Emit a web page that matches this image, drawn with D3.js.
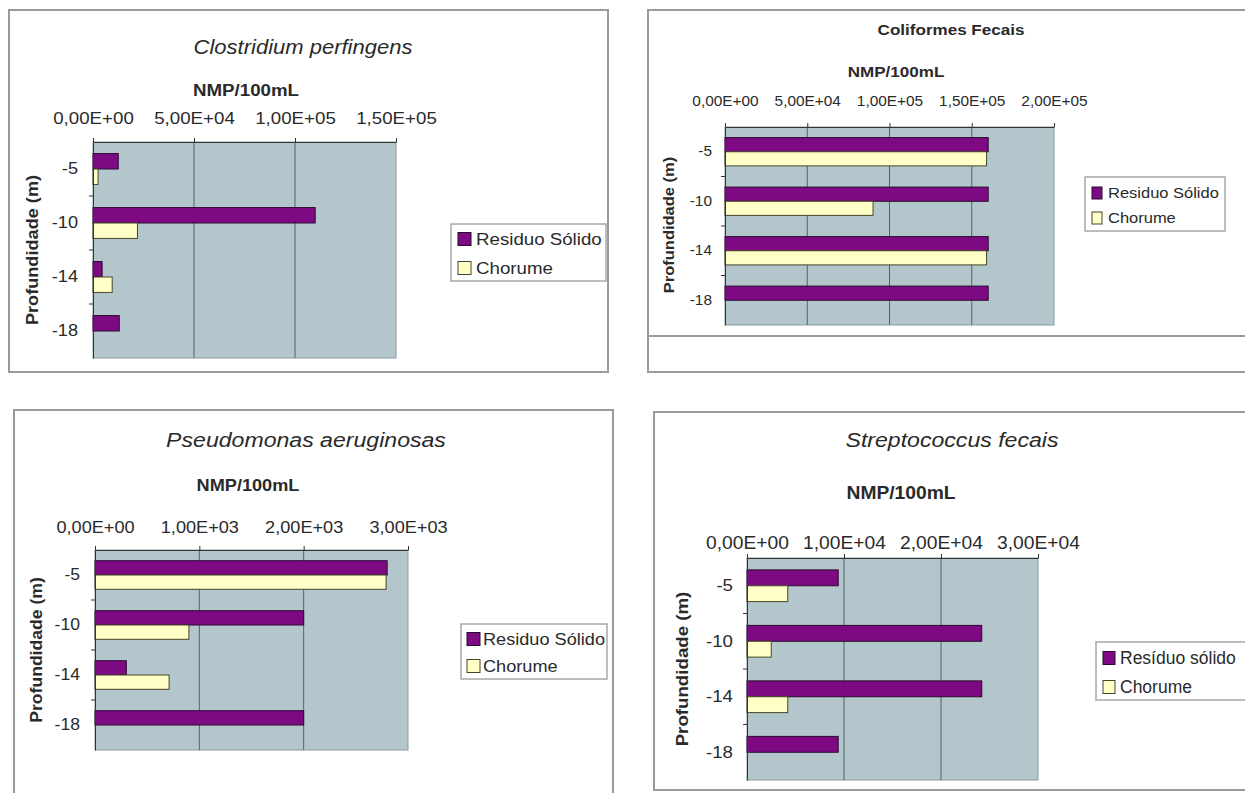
<!DOCTYPE html>
<html><head><meta charset="utf-8">
<script src="https://cdn.jsdelivr.net/npm/d3@7"></script>
<style>body{margin:0;background:#fff}svg{display:block}text{font-family:"Liberation Sans",Arial,sans-serif}</style>
</head><body><svg id="c" width="1245" height="793"></svg>
<script>
// ---------------- data ----------------
const depths = ["-5", "-10", "-14", "-18"];
const seriesKeys = ["residuo", "chorume"];
const legendLabelsA = ["Residuo Sólido", "Chorume"];
const legendLabelsB = ["Resíduo sólido", "Chorume"];
const unitLabel = "NMP/100mL";
const depthTitle = "Profundidade (m)";

const clostridiumResiduo = [1.25e4, 1.10e5, 4.5e3, 1.3e4];
const clostridiumChorume = [2.5e3, 2.2e4, 9.5e3, 0];
const clostridiumTicks = [0, 5e4, 1e5, 1.5e5];
const clostridiumTickLabels = ["0,00E+00", "5,00E+04", "1,00E+05", "1,50E+05"];

const coliformesResiduo = [1.60e5, 1.60e5, 1.60e5, 1.60e5];
const coliformesChorume = [1.59e5, 9.0e4, 1.59e5, 0];
const coliformesTicks = [0, 5e4, 1e5, 1.5e5, 2e5];
const coliformesTickLabels = ["0,00E+00", "5,00E+04", "1,00E+05", "1,50E+05", "2,00E+05"];

const pseudomonasResiduo = [2.80e3, 2.00e3, 3.0e2, 2.00e3];
const pseudomonasChorume = [2.79e3, 9.0e2, 7.1e2, 0];
const pseudomonasTicks = [0, 1e3, 2e3, 3e3];
const pseudomonasTickLabels = ["0,00E+00", "1,00E+03", "2,00E+03", "3,00E+03"];

const streptococcusResiduo = [9.4e3, 2.42e4, 2.42e4, 9.4e3];
const streptococcusChorume = [4.2e3, 2.5e3, 4.2e3, 0];
const streptococcusTicks = [0, 1e4, 2e4, 3e4];
const streptococcusTickLabels = ["0,00E+00", "1,00E+04", "2,00E+04", "3,00E+04"];

// ---------------- style / layout ----------------
const SX = 1.1;
const COLORS = {residuo: "#7e0a83", chorume: "#ffffc6"};
const STROKES = {residuo: "#2a0830", chorume: "#45452a"};
const PLOT_BG = "#b3c6cb";
const GRID = "#4f656b";
const TEXT = "#2a2a2a";

const panels = [
  {title: "Clostridium perfingens", italic: true, bold: false,
   res: clostridiumResiduo, cho: clostridiumChorume, ticks: clostridiumTicks, tickLabels: clostridiumTickLabels, legend: legendLabelsA,
   frame: [9, 10, 608, 372], plot: [93, 142, 396, 358],
   titlePos: [303, 54, 20], unitPos: [246, 96, 17], tickOff: 18, tickFont: 17,
   catPad: 15, catFont: 16.5, yTitle: [38, 250, 16.5],
   legendBox: [451, 224, 606, 281], sym: [458, 13, 13], rows: [239, 268], legText: [476, 17, SX]},
  {title: "Coliformes Fecais", italic: false, bold: true,
   res: coliformesResiduo, cho: coliformesChorume, ticks: coliformesTicks, tickLabels: coliformesTickLabels, legend: legendLabelsA,
   frame: [648, 10, 1262, 372], plot: [725, 127, 1054, 325], extraLine: 336,
   titlePos: [951, 35, 15.5], unitPos: [896, 77, 15.5], tickOff: 21, tickFont: 14,
   catPad: 13, catFont: 14, yTitle: [674, 225, 15],
   legendBox: [1085, 177, 1225, 231], sym: [1092, 10, 12], rows: [193, 218], legText: [1108, 15, SX]},
  {title: "Pseudomonas aeruginosas", italic: true, bold: false,
   res: pseudomonasResiduo, cho: pseudomonasChorume, ticks: pseudomonasTicks, tickLabels: pseudomonasTickLabels, legend: legendLabelsA,
   frame: [14, 410, 613, 800], plot: [95, 550, 408, 750],
   titlePos: [306, 447, 21], unitPos: [248, 491, 16.5], tickOff: 17, tickFont: 16.5,
   catPad: 15, catFont: 16, yTitle: [42, 650, 16],
   legendBox: [461, 624, 607, 679], sym: [467, 13, 13], rows: [639, 666], legText: [483, 16.5, SX]},
  {title: "Streptococcus fecais", italic: true, bold: false,
   res: streptococcusResiduo, cho: streptococcusChorume, ticks: streptococcusTicks, tickLabels: streptococcusTickLabels, legend: legendLabelsB,
   frame: [654, 412, 1262, 790], plot: [747, 558, 1038, 780],
   titlePos: [952, 447, 21], unitPos: [901, 499, 17.5], tickOff: 9, tickFont: 17.5,
   catPad: 14, catFont: 17, yTitle: [688, 669, 17],
   legendBox: [1096, 642, 1262, 700], sym: [1103, 12, 13], rows: [658, 687], legText: [1120, 17.5, 1.0]}
];

const svg = d3.select("#c");

function stext(g, x, y, str, o) {
  const rot = o.rotate ? ` rotate(${o.rotate})` : "";
  return g.append("text")
    .attr("transform", `translate(${x},${y})${rot} scale(${o.sx || SX},1)`)
    .attr("text-anchor", o.anchor || "start")
    .attr("dy", o.dy || null)
    .style("font-size", o.size + "px")
    .style("font-weight", o.bold ? "bold" : "normal")
    .style("font-style", o.italic ? "italic" : "normal")
    .attr("fill", o.fill || TEXT)
    .text(str);
}

panels.forEach(p => {
  const g = svg.append("g");
  const [fx0, fy0, fx1, fy1] = p.frame;
  g.append("rect").attr("x", fx0).attr("y", fy0).attr("width", fx1 - fx0).attr("height", fy1 - fy0)
    .attr("fill", "#fff").attr("stroke", "#9a9a9a").attr("stroke-width", 2);
  if (p.extraLine) {
    g.append("line").attr("x1", fx0).attr("x2", fx1).attr("y1", p.extraLine).attr("y2", p.extraLine)
      .attr("stroke", "#9a9a9a").attr("stroke-width", 2);
  }
  const [px0, py0, px1, py1] = p.plot;
  const x = d3.scaleLinear().domain([0, p.ticks[p.ticks.length - 1]]).range([px0, px1]);
  const y = d3.scaleBand().domain(depths).range([py0, py1]).padding(0);
  const ys = d3.scaleBand().domain(seriesKeys).range([0, y.bandwidth()]).paddingInner(0).paddingOuter(0.75);

  g.append("rect").attr("x", px0).attr("y", py0).attr("width", px1 - px0).attr("height", py1 - py0)
    .attr("fill", PLOT_BG).attr("stroke", "#8a9ca1").attr("stroke-width", 1);

  // gridlines
  g.append("g").selectAll("line").data(p.ticks.slice(1, -1)).join("line")
    .attr("x1", d => x(d)).attr("x2", d => x(d)).attr("y1", py0).attr("y2", py1)
    .attr("stroke", GRID).attr("stroke-width", 1);

  // bars
  const rows = depths.map((d, i) => ({depth: d, residuo: p.res[i], chorume: p.cho[i]}));
  rows.forEach(r => {
    seriesKeys.forEach(k => {
      if (r[k] <= 0) return;
      g.append("rect")
        .attr("x", x(0)).attr("y", y(r.depth) + ys(k))
        .attr("width", x(r[k]) - x(0)).attr("height", ys.bandwidth())
        .attr("fill", COLORS[k]).attr("stroke", STROKES[k]).attr("stroke-width", 1);
    });
  });

  // top value axis
  const ax = g.append("g").attr("transform", `translate(0,${py0})`)
    .call(d3.axisTop(x).tickValues(p.ticks).tickFormat((d, i) => p.tickLabels[i]).tickSizeOuter(0).tickSizeInner(4));
  ax.select(".domain").attr("stroke", "#333");
  ax.selectAll(".tick line").attr("stroke", "#333");
  ax.selectAll(".tick text").attr("y", -p.tickOff).attr("dy", "0")
    .attr("transform", `scale(${SX},1)`).style("font-size", p.tickFont + "px").attr("fill", TEXT);

  // left category axis
  const ay = g.append("g").attr("transform", `translate(${px0},0)`)
    .call(d3.axisLeft(y).tickSize(0).tickPadding(p.catPad));
  ay.select(".domain").attr("stroke", "#333");
  ay.selectAll(".tick text").attr("x", -p.catPad / SX)
    .attr("transform", `scale(${SX},1)`).style("font-size", p.catFont + "px").attr("fill", TEXT);
  // category separator ticks
  g.append("g").selectAll("line").data(depths.slice(1)).join("line")
    .attr("x1", px0 - 4).attr("x2", px0).attr("y1", d => y(d)).attr("y2", d => y(d))
    .attr("stroke", "#333");

  // titles
  stext(g, p.titlePos[0], p.titlePos[1], p.title, {anchor: "middle", size: p.titlePos[2], italic: p.italic, bold: p.bold});
  stext(g, p.unitPos[0], p.unitPos[1], unitLabel, {anchor: "middle", size: p.unitPos[2], bold: true});
  stext(g, p.yTitle[0], p.yTitle[1], depthTitle, {anchor: "middle", size: p.yTitle[2], bold: true, rotate: -90});

  // legend
  const [lx0, ly0, lx1, ly1] = p.legendBox;
  g.append("rect").attr("x", lx0).attr("y", ly0).attr("width", lx1 - lx0).attr("height", ly1 - ly0)
    .attr("fill", "#fff").attr("stroke", "#a8a8a8").attr("stroke-width", 1.5);
  seriesKeys.forEach((k, i) => {
    const cy = p.rows[i];
    g.append("rect").attr("x", p.sym[0]).attr("y", cy - p.sym[2] / 2).attr("width", p.sym[1]).attr("height", p.sym[2])
      .attr("fill", COLORS[k]).attr("stroke", STROKES[k]).attr("stroke-width", 1);
    stext(g, p.legText[0], cy, p.legend[i], {size: p.legText[1], dy: "0.35em", sx: p.legText[2]});
  });
});
</script></body></html>
